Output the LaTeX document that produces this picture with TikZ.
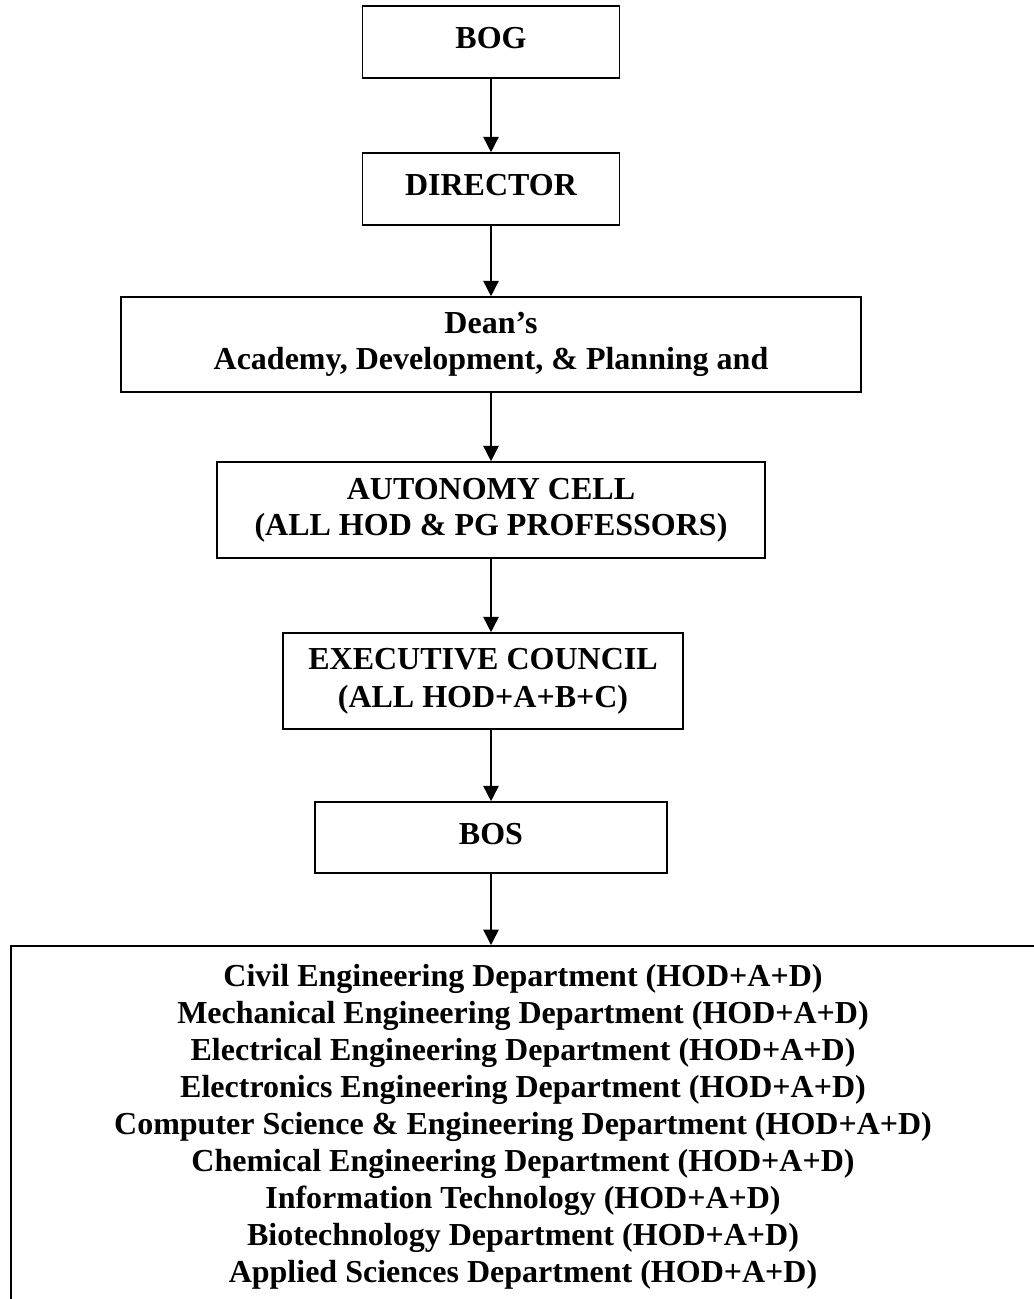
\documentclass[tikz,border=0pt]{standalone}
\usepackage{fontspec}
\setmainfont{Liberation Serif}
\usetikzlibrary{arrows.meta}

\begin{document}
\begin{tikzpicture}[x=.75pt,y=-.75pt,
  box/.style={draw=black,line width=1.2pt,fill=white,inner sep=0pt,align=center,font=\bfseries\fontsize{24}{27}\selectfont},
  arr/.style={draw=black,line width=1.2pt,-{Triangle[length=11.5pt,width=11.5pt]}}]
\clip (0,0) rectangle (1034,1299);
\path[fill=white,draw=none] (0,0) rectangle (1034,1299);
% chain of boxes
\node[box,minimum width=192.75pt,minimum height=54pt,text depth=6pt] (bog) at (491,42) {BOG};
\node[box,minimum width=192.75pt,minimum height=54pt,text depth=6pt] (dir) at (491,189) {DIRECTOR};
\node[box,minimum width=555pt,minimum height=71.25pt] (dean) at (491,344.5) {Dean’s\\Academy, Development, \& Planning and};
\node[box,minimum width=411pt,minimum height=72pt] (auto) at (491,510) {AUTONOMY CELL\\(ALL HOD \& PG PROFESSORS)};
\node[box,minimum width=300pt,minimum height=72pt,font=\bfseries\fontsize{24}{28.5}\selectfont] (exec) at (483,681) {EXECUTIVE COUNCIL\\(ALL HOD+A+B+C)};
\node[box,minimum width=264pt,minimum height=53.25pt,text depth=6pt] (bos) at (491,837.5) {BOS};
% departments, box runs past the page
\node[box,anchor=north,minimum width=768pt,inner ysep=13.5pt,font=\bfseries\fontsize{24}{27.75}\selectfont] (depts) at (523,945) {%
Civil Engineering Department (HOD+A+D)\\
Mechanical Engineering Department (HOD+A+D)\\
Electrical Engineering Department (HOD+A+D)\\
Electronics Engineering Department (HOD+A+D)\\
Computer Science \& Engineering Department (HOD+A+D)\\
Chemical Engineering Department (HOD+A+D)\\
Information Technology (HOD+A+D)\\
Biotechnology Department (HOD+A+D)\\
Applied Sciences Department (HOD+A+D)};
% arrows
\draw[arr] (bog) -- (dir);
\draw[arr] (dir) -- (dean);
\draw[arr] (dean) -- (auto);
\draw[arr] (auto) -- (auto |- exec.north);
\draw[arr] (bos |- exec.south) -- (bos);
\draw[arr] (bos) -- (bos |- depts.north);
\end{tikzpicture}
\end{document}
